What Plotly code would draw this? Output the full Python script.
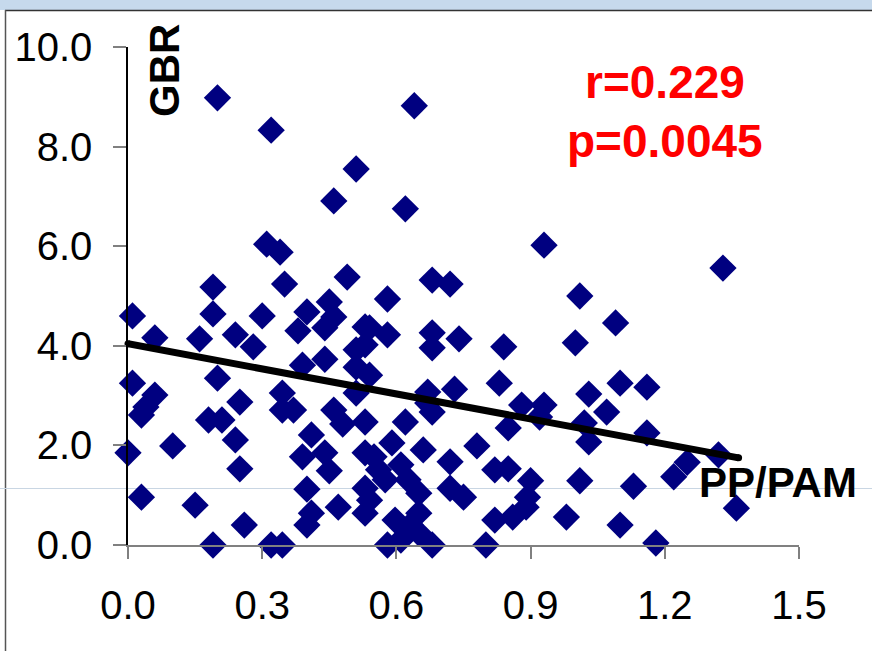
import plotly.graph_objects as go

# ---- data ----
pp_pam = [0.20, 0.32, 0.64, 0.51, 0.46, 0.62, 0.31, 0.34, 0.93, 1.33,
          0.19, 0.35, 0.49, 0.68, 0.72, 0.58, 1.01, 0.45, 0.01, 0.06,
          0.19, 0.16, 0.24, 0.28, 0.30, 0.40, 0.38, 0.46, 0.44, 0.53,
          0.44, 0.39, 0.51, 0.54, 0.58, 0.68, 0.68, 0.74, 0.84, 1.00,
          1.09, 0.53, 0.51, 0.51, 0.01, 0.06, 0.04, 0.20, 0.25, 0.345,
          0.345, 0.37, 0.46, 0.48, 0.54, 0.83, 0.67, 0.73, 0.67, 0.88,
          0.93, 1.03, 1.10, 1.16, 1.07, 0.03, 0.18, 0.21, 0.53, 0.41,
          0.39, 0.44, 0.45, 0.53, 0.00, 0.10, 0.25, 0.24, 0.62, 0.68,
          0.85, 0.92, 1.02, 1.03, 0.59, 0.66, 0.55, 0.61, 0.56, 0.72,
          0.78, 0.82, 0.85, 0.90, 1.01, 1.16, 1.32, 1.25, 0.40, 0.53,
          0.03, 0.15, 0.41, 0.47, 0.40, 0.53, 0.26, 0.19, 0.32, 0.345,
          0.54, 0.65, 0.72, 0.75, 0.65, 0.89, 0.86, 0.82, 0.98, 1.10,
          0.65, 0.58, 0.61, 0.68, 0.80, 1.18, 1.22, 1.13, 1.36, 0.575,
          0.626, 0.597, 0.631, 0.893]
gbr = [8.98, 8.33, 8.82, 7.55, 6.91, 6.75, 6.04, 5.88, 6.02, 5.56,
       5.18, 5.24, 5.38, 5.32, 5.24, 4.94, 5.00, 4.88, 4.60, 4.16,
       4.64, 4.14, 4.22, 3.98, 4.60, 4.68, 4.30, 4.58, 4.36, 4.38,
       3.73, 3.61, 3.92, 4.36, 4.22, 4.26, 3.96, 4.14, 3.98, 4.06,
       4.46, 4.02, 3.57, 3.05, 3.25, 3.01, 2.77, 3.35, 2.87, 3.05,
       2.71, 2.71, 2.71, 2.43, 3.41, 3.25, 3.07, 3.13, 2.85, 2.81,
       2.81, 3.03, 3.25, 3.17, 2.67, 2.61, 2.51, 2.51, 2.47, 2.21,
       1.77, 1.85, 1.49, 1.85, 1.85, 1.99, 1.53, 2.11, 2.47, 2.67,
       2.35, 2.57, 2.45, 2.07, 2.05, 1.91, 1.77, 1.61, 1.51, 1.67,
       1.99, 1.51, 1.53, 1.29, 1.29, 2.25, 1.81, 1.66, 1.12, 1.14,
       0.96, 0.80, 0.64, 0.76, 0.40, 0.64, 0.40, 0.00, 0.00, 0.00,
       0.90, 1.04, 1.14, 0.96, 0.64, 0.76, 0.56, 0.50, 0.56, 0.40,
       0.24, 0.00, 0.10, 0.00, 0.00, 0.04, 1.37, 1.18, 0.74, 1.31,
       1.31, 0.50, 0.40, 0.96]

trend_x = [0.0, 1.365]
trend_y = [4.04, 1.75]

x_ticks = [0.0, 0.3, 0.6, 0.9, 1.2, 1.5]
x_tick_labels = ["0.0", "0.3", "0.6", "0.9", "1.2", "1.5"]
y_ticks = [0, 2, 4, 6, 8, 10]
y_tick_labels = ["0.0", "2.0", "4.0", "6.0", "8.0", "10.0"]

# ---- layout geometry (pixels) ----
W, H = 872, 651
L, R, T, B = 128, 799, 47, 545


def px(xp):
    return (xp - L) / (R - L)


def py(yp):
    return (B - yp) / (B - T)


narrow = "Liberation Sans Narrow, Arial Narrow, Liberation Sans, Arial"
bold = "Liberation Sans, Arial, sans-serif"

fig = go.Figure()
fig.add_trace(go.Scatter(
    x=pp_pam, y=gbr, mode="markers",
    marker=dict(symbol="diamond", size=21, color="#000080", line=dict(width=0)),
    cliponaxis=False, showlegend=False, hoverinfo="skip"))
fig.add_trace(go.Scatter(
    x=trend_x, y=trend_y, mode="lines+markers",
    line=dict(color="black", width=7),
    marker=dict(symbol="circle", size=7, color="black"),
    cliponaxis=False, showlegend=False, hoverinfo="skip"))

fig.update_layout(
    template="none",
    width=W, height=H, autosize=False,
    margin=dict(l=L, r=W - R, t=T, b=H - B, pad=0),
    paper_bgcolor="white", plot_bgcolor="rgba(0,0,0,0)",
    showlegend=False,
    xaxis=dict(range=[0, 1.5], tickvals=x_ticks, ticktext=x_tick_labels,
               ticks="outside", ticklen=12, tickwidth=2, tickcolor="#808080",
               showline=True, linecolor="#808080", linewidth=2,
               showgrid=False, zeroline=False, ticklabelstandoff=12,
               automargin=False,
               tickfont=dict(family=narrow, size=40, color="black")),
    yaxis=dict(range=[0, 10], tickvals=y_ticks, ticktext=y_tick_labels,
               ticks="outside", ticklen=13, tickwidth=2, tickcolor="#808080",
               showline=True, linecolor="black", linewidth=1.5,
               showgrid=False, zeroline=False, ticklabelstandoff=13,
               automargin=False,
               tickfont=dict(family=narrow, size=40, color="black")),
)

shapes = [
    # slide frame: top band, its border, left border
    dict(type="rect", xref="paper", yref="paper", x0=px(0), x1=px(W),
         y0=py(10), y1=py(0), fillcolor="#C6D9EC", line=dict(width=0), layer="below"),
    dict(type="line", xref="paper", yref="paper", x0=px(5), x1=px(W),
         y0=py(10.5), y1=py(10.5), line=dict(color="#333333", width=1.5), layer="below"),
    dict(type="line", xref="paper", yref="paper", x0=px(5.5), x1=px(5.5),
         y0=py(10), y1=py(H), line=dict(color="#555555", width=1.5), layer="below"),
    # faint horizontal guide
    dict(type="line", xref="paper", yref="paper", x0=px(0), x1=px(W),
         y0=py(488.5), y1=py(488.5), line=dict(color="#C9D6E3", width=1), layer="below"),
]
fig.update_layout(shapes=shapes)

ann = [
    dict(text="<b>GBR</b>", x=px(164), y=py(71), textangle=-90,
         font=dict(family=bold, size=42, color="black")),
    dict(text="<b>r=0.229</b>", x=px(665), y=py(82),
         font=dict(family=bold, size=46, color="#FF0000")),
    dict(text="<b>p=0.0045</b>", x=px(665), y=py(141),
         font=dict(family=bold, size=46, color="#FF0000")),
    dict(text="<b>PP/PAM</b>", x=px(778), y=py(482),
         font=dict(family=bold, size=42, color="black")),
]
for a in ann:
    a.update(xref="paper", yref="paper", showarrow=False,
             xanchor="center", yanchor="middle")
fig.update_layout(annotations=ann)

fig.write_html("out.html")
